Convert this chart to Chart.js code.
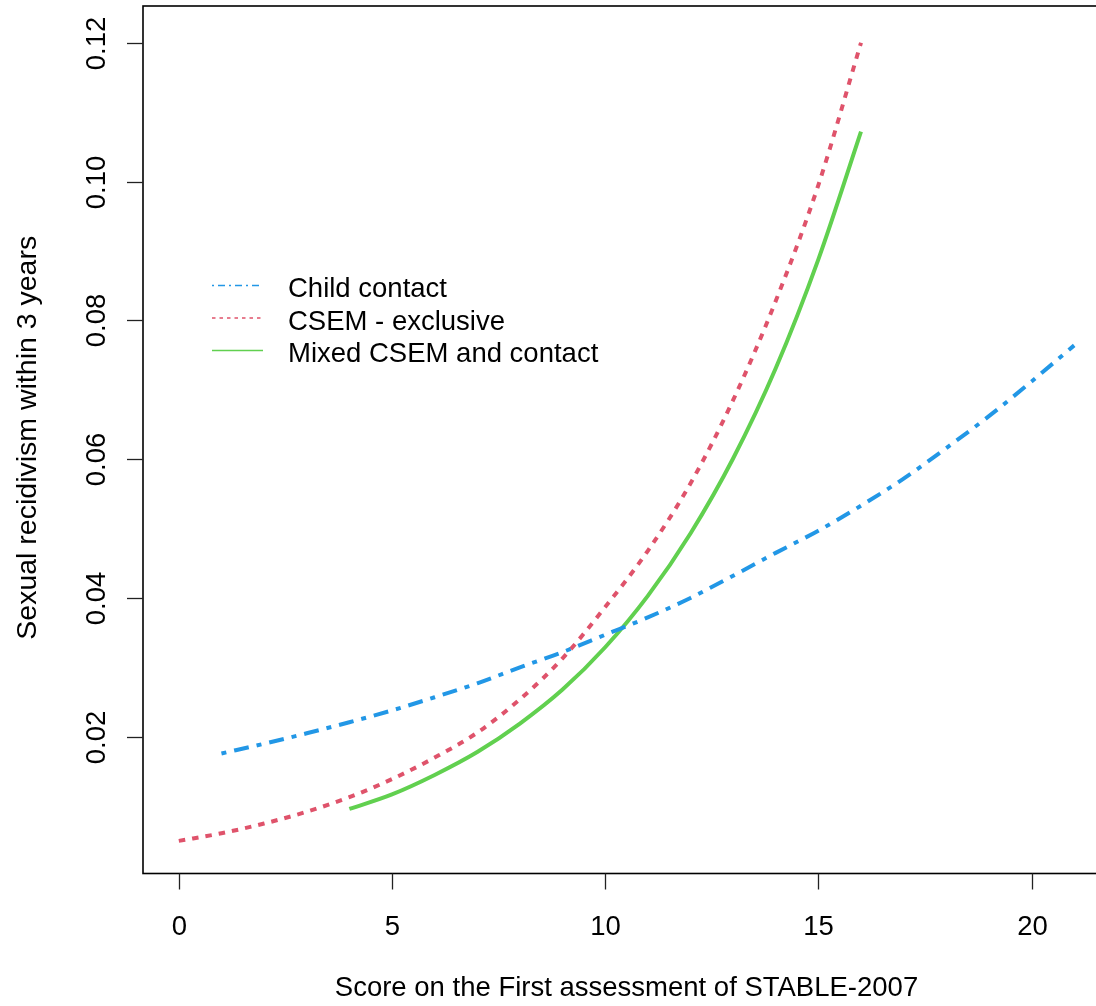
<!DOCTYPE html>
<html><head><meta charset="utf-8">
<script src="https://cdn.jsdelivr.net/npm/chart.js@4/dist/chart.umd.min.js"></script>
<style>html,body{margin:0;padding:0;background:#fff;overflow:hidden;width:1096px;height:1006px}#wrap{width:1120px;height:1006px}</style>
</head><body><div id="wrap"><canvas id="c" width="1120" height="1006"></canvas></div>
<script>
const seriesNames = ["Child contact", "CSEM - exclusive", "Mixed CSEM and contact"];
const seriesColors = ["#2297E6", "#DF536B", "#61D04F"];

const childX = [1, 2, 3, 4, 5, 6, 7, 8, 9, 10, 11, 12, 13, 14, 15, 16, 17, 18, 19, 20, 21];
const childY = [0.0176, 0.0190, 0.0205, 0.0221, 0.0238, 0.0257, 0.0277, 0.0300, 0.0322, 0.0347, 0.0372, 0.0400, 0.0432, 0.0465, 0.0497, 0.0533, 0.0572, 0.0616, 0.0662, 0.0712, 0.0764];

const csemX = [0, 1, 2, 3, 4, 5, 6, 7, 8, 9, 10, 11, 12, 13, 14, 15, 16];
const csemY = [0.0050, 0.0061, 0.0075, 0.0092, 0.0113, 0.0139, 0.0170, 0.0206, 0.0254, 0.0313, 0.0387, 0.0468, 0.0565, 0.0685, 0.0828, 0.0995, 0.1200];

const mixedX = [4, 5, 6, 7, 8, 9, 10, 11, 12, 13, 14, 15, 16];
const mixedY = [0.0096, 0.0117, 0.0145, 0.0178, 0.0219, 0.0268, 0.0329, 0.0403, 0.0493, 0.0601, 0.0731, 0.0888, 0.1072];

const xTicks = [0, 5, 10, 15, 20];
const xTickLabels = ["0", "5", "10", "15", "20"];
const yTicks = [0.02, 0.04, 0.06, 0.08, 0.10, 0.12];
const yTickLabels = ["0.02", "0.04", "0.06", "0.08", "0.10", "0.12"];

const xTitle = "Score on the First assessment of STABLE-2007";
const yTitle = "Sexual recidivism within 3 years";

const FONT = "27.5px 'Liberation Sans', Arial, sans-serif";
const YTITLE_FONT = "28.5px 'Liberation Sans', Arial, sans-serif";

function pts(xs, ys) { return xs.map((x, i) => ({ x: x, y: ys[i] })); }

const dataLines = [
  { data: pts(childX, childY), dash: [5, 8, 15, 8], legDash: [2, 4, 7, 4] },
  { data: pts(csemX, csemY), dash: [6.5, 7], legDash: [3.5, 4] },
  { data: pts(mixedX, mixedY), dash: [], legDash: [] }
];

const rPlot = {
  id: 'rPlot',
  afterDraw(chart) {
    const ctx = chart.ctx;
    const a = chart.chartArea;
    const xs = chart.scales.x, ys = chart.scales.y;
    ctx.save();
    ctx.strokeStyle = '#000';
    ctx.lineWidth = 1.6;
    ctx.setLineDash([]);
    ctx.strokeRect(a.left, a.top, a.right - a.left, a.bottom - a.top);
    ctx.lineWidth = 1.3;
    ctx.strokeStyle = '#222';
    ctx.fillStyle = '#000';
    ctx.font = FONT;
    ctx.textAlign = 'center';
    ctx.textBaseline = 'alphabetic';
    xTicks.forEach((t, i) => {
      const px = Math.round(xs.getPixelForValue(t)) + 0.5;
      ctx.beginPath(); ctx.moveTo(px, a.bottom); ctx.lineTo(px, a.bottom + 16); ctx.stroke();
      ctx.fillText(xTickLabels[i], px, 935);
    });
    yTicks.forEach((t, i) => {
      const py = Math.round(ys.getPixelForValue(t)) + 0.5;
      ctx.beginPath(); ctx.moveTo(a.left, py); ctx.lineTo(a.left - 16, py); ctx.stroke();
      ctx.save();
      ctx.translate(104.5, py);
      ctx.rotate(-Math.PI / 2);
      ctx.fillText(yTickLabels[i], 0, 0);
      ctx.restore();
    });
    ctx.fillText(xTitle, (a.left + a.right) / 2, 996);
    ctx.save();
    ctx.font = YTITLE_FONT;
    ctx.translate(36, (a.top + a.bottom) / 2 - 2);
    ctx.rotate(-Math.PI / 2);
    ctx.fillText(yTitle, 0, 0);
    ctx.restore();
    const baseY = [297, 329.5, 362];
    ctx.textAlign = 'left';
    seriesNames.forEach((n, i) => {
      const ly = baseY[i] - 11.5;
      ctx.strokeStyle = seriesColors[i];
      ctx.lineWidth = 1.4;
      ctx.setLineDash(dataLines[i].legDash);
      ctx.beginPath(); ctx.moveTo(212, ly); ctx.lineTo(263, ly); ctx.stroke();
      ctx.setLineDash([]);
      ctx.fillStyle = '#000';
      ctx.fillText(n, 288, baseY[i]);
    });
    ctx.restore();
  }
};

new Chart(document.getElementById('c'), {
  type: 'line',
  data: {
    datasets: dataLines.map((d, i) => ({
      label: seriesNames[i],
      data: d.data,
      borderColor: seriesColors[i],
      backgroundColor: seriesColors[i],
      borderWidth: 4,
      borderDash: d.dash,
      borderCapStyle: 'butt',
      pointRadius: 0,
      fill: false,
      cubicInterpolationMode: 'monotone'
    }))
  },
  options: {
    responsive: false,
    animation: false,
    devicePixelRatio: 1,
    layout: { padding: { left: 143, top: 6, right: 10, bottom: 132.5 } },
    plugins: { legend: { display: false }, tooltip: { enabled: false } },
    scales: {
      x: { type: 'linear', min: -0.84, max: 21.84, display: false },
      y: { type: 'linear', min: 0.0003, max: 0.1253, display: false }
    }
  },
  plugins: [rPlot]
});
</script>
</body></html>
